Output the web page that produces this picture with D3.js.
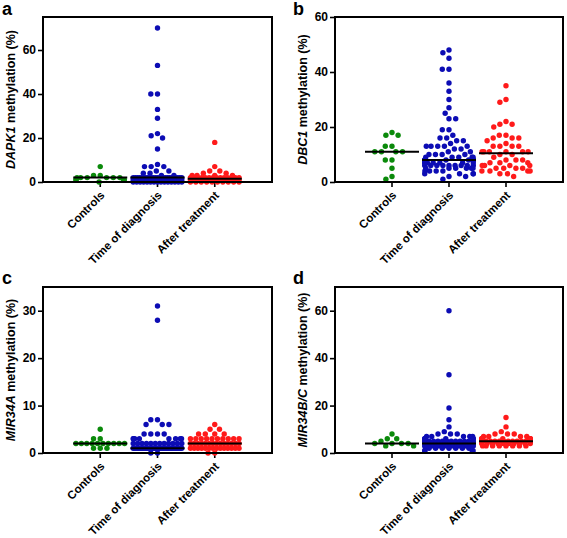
<!DOCTYPE html>
<html>
<head>
<meta charset="utf-8">
<script src="https://cdn.jsdelivr.net/npm/d3@7"></script>
<style>
  body { margin: 0; background: #fff; }
  svg { display: block; font-family: "Liberation Sans", Arial, sans-serif; }
</style>
</head>
<body>
<script>
// ---------- data ----------
const categories = ["Controls", "Time of diagnosis", "After treatment"];
const groupColors = ["#0b8a0b", "#0c0cb4", "#ff1a1a"];

const dapk1Controls = [7,3,3,2,2,2,2,2,2,1,1,1,1,0];
const dapk1Diagnosis = [70,53,40,40,33,29,22,21,20,15,8,7,7,7,5,5,4,4,3,3,
  2,2,2,2,2,2,2,2,2,2,2,2,2,2,2,2,2,2,2,2,2,2,2,2,2,
  1,1,1,1,1,1,1,1,1,1,1,1,1,1,1,1,1,1,1,1,
  0,0,0,0,0,0,0,0,0,0,0,0,0,0,0];
const dapk1After = [18,7,5,5,4,4,3,3,3,3,
  2,2,2,2,2,2,2,2,2,2,2,2,2,2,
  1,1,1,1,1,1,1,1,1,1,1,1,1,1,
  0,0,0,0,0,0,0,0,0,0];

const dbc1Controls = [18,17,17,13,13,11,11,11,11,8,8,5,2,1];
const dbc1Diagnosis = [48,47,45,41,41,36,33,30,27,25,23,23,19,19,17,16,16,15,15,14,
  13,13,13,13,13,12,12,11,11,10,10,10,10,9,9,9,9,9,
  8,8,8,8,8,8,8,8,7,7,7,7,7,7,7,6,6,6,6,6,6,6,6,6,
  5,5,5,5,5,5,4,4,4,4,3,3,3,3,2,2,1];
const dbc1After = [35,30,29,22,21,21,20,17,17,16,16,16,15,14,13,13,13,13,
  11,11,11,11,11,11,10,10,9,8,8,8,7,7,7,6,6,6,6,5,5,5,5,4,4,4,4,3,3,2];

const mir34aControls = [5,3,3,2,2,2,2,2,2,2,2,2,2,1,1,1];
const mir34aDiagnosis = [31,28,7,7,6,6,6,4,4,4,4,
  3,3,3,3,3,3,3,3,
  2,2,2,2,2,2,2,2,2,2,2,2,
  1,1,1,1,1,1,1,1,1,1,1,1,1,1,1,1,1,1,1,1,1,1,1,1,1,1,1,1,1,1,1,1,1,1,1,1,1,1,
  0,0];
const mir34aAfter = [6,5,5,4,4,4,4,
  3,3,3,3,3,3,3,3,3,3,
  2,2,2,2,2,2,2,2,2,2,2,2,2,2,
  1,1,1,1,1,1,1,1,1,1,1,1,1,1,
  0,0];

const mir34bcControls = [8,6,6,5,4,4,4,4,3,3];
const mir34bcDiagnosis = [60,33,19,14,11,9,8,8,8,7,7,7,7,7,6,6,6,6,6,6,
  5,5,5,5,5,5,5,5,5,5,5,5,
  4,4,4,4,4,4,4,4,4,4,4,4,4,4,4,4,4,4,
  3,3,3,3,3,3,3,3,3,3,3,3,3,3,3,3,3,3,
  2,2,2,2,2,2,2,2,
  1,1,1,1];
const mir34bcAfter = [15,11,9,8,8,8,7,7,7,7,
  6,6,6,6,6,6,6,6,
  5,5,5,5,5,5,5,5,5,5,5,5,
  4,4,4,4,4,4,4,4,4,4,
  3,3,3,3,3,3,3,3];

const ticksA = [0,20,40,60];
const ticksB = [0,20,40,60];
const ticksC = [0,10,20,30];
const ticksD = [0,20,40,60];

const panelLetters = ["a","b","c","d"];
const geneNames = ["DAPK1","DBC1","MIR34A","MIR34B/C"];
const yMaxes = [75, 60, 35, 70];

// ---------- layout ----------
const W = 567, H = 538;
const svg = d3.select("body").append("svg").attr("width", W).attr("height", H);

const panels = [
  {data:[dapk1Controls,dapk1Diagnosis,dapk1After], ticks:ticksA, left:43, right:272, top:17, bottom:182, lx:2, ly:15},
  {data:[dbc1Controls,dbc1Diagnosis,dbc1After], ticks:ticksB, left:335, right:563, top:17, bottom:182, lx:293, ly:15},
  {data:[mir34aControls,mir34aDiagnosis,mir34aAfter], ticks:ticksC, left:43, right:272, top:287, bottom:453, lx:2, ly:284},
  {data:[mir34bcControls,mir34bcDiagnosis,mir34bcAfter], ticks:ticksD, left:335, right:563, top:287, bottom:453, lx:293, ly:284}
];

const R = 2.7, D = 6.7, HALF = 27;
const Hm = HALF - R;

function swarm(vals, y) {
  const counts = d3.rollup(vals, v => v.length, v => v);
  const cap = Math.floor(2 * Hm / D) + 1;
  const out = [];
  // dense rows: spread uniformly across the band
  counts.forEach((n, v) => {
    if (n > cap) {
      const s = 2 * Hm / (n - 1);
      for (let i = 0; i < n; i++) out.push({v, y: y(v), x: -Hm + i * s});
    }
  });
  // sparse rows: beeswarm
  const pts = vals.filter(v => counts.get(v) <= cap)
    .map(v => ({v, y: y(v), x: 0})).sort((a, b) => b.v - a.v);
  const placed = [];
  for (const p of pts) {
    const cands = [0];
    for (const q of placed) {
      const dy = q.y - p.y;
      if (Math.abs(dy) < D) {
        const dx = Math.sqrt(D * D - dy * dy);
        cands.push(q.x + dx, q.x - dx);
      }
    }
    cands.sort((a, b) => Math.abs(a) - Math.abs(b) || a - b);
    for (const c of cands) {
      if (placed.every(q => (q.x - c) ** 2 + (q.y - p.y) ** 2 >= D * D - 1e-6)) { p.x = c; break; }
    }
    placed.push(p);
  }
  const k = 0.7 * Hm;
  pts.forEach(p => {
    const a = Math.abs(p.x);
    if (a > k) p.x = Math.sign(p.x) * (k + (Hm - k) * Math.tanh((a - k) / (Hm - k)));
  });
  return out.concat(pts);
}

panels.forEach((P, pi) => {
  const g = svg.append("g");
  const x = d3.scaleBand().domain(categories).range([P.left, P.right]).paddingInner(0).paddingOuter(0.5);
  const y = d3.scaleLinear().domain([0, yMaxes[pi]]).range([P.bottom, P.top]);

  // y axis
  const ya = g.append("g").attr("transform", `translate(${P.left},0)`)
    .call(d3.axisLeft(y).tickValues(P.ticks).tickSize(5).tickPadding(2).tickFormat(d3.format("d")));
  ya.select(".domain").remove();
  ya.selectAll("line").attr("stroke", "#000").attr("stroke-width", 1.6);
  ya.selectAll("text").attr("font-size", 12).attr("font-weight", "bold").attr("fill", "#000")
    .attr("font-family", "'Liberation Sans', Arial, sans-serif");

  // x axis
  const xa = g.append("g").attr("transform", `translate(0,${P.bottom})`)
    .call(d3.axisBottom(x).tickSize(5).tickFormat(""));
  xa.select(".domain").remove();
  xa.selectAll("line").attr("stroke", "#000").attr("stroke-width", 1.6);

  categories.forEach(c => {
    const cx = x(c) + x.bandwidth() / 2;
    g.append("text")
      .attr("transform", `translate(${cx + 5},${P.bottom + 14}) rotate(-45)`)
      .attr("text-anchor", "end")
      .attr("font-size", 11.5).attr("font-weight", "bold")
      .text(c);
  });

  // y label
  const lab = g.append("text")
    .attr("transform", `translate(${P.left - 28},${(P.top + P.bottom) / 2}) rotate(-90)`)
    .attr("text-anchor", "middle").attr("font-size", 12.5).attr("font-weight", "bold");
  lab.append("tspan").attr("font-style", "italic").text(geneNames[pi]);
  lab.append("tspan").text(" methylation (%)");

  // dots
  P.data.forEach((vals, ci) => {
    const cx = x(categories[ci]) + x.bandwidth() / 2;
    const pts = swarm(vals, y);
    g.append("g").selectAll("circle").data(pts).join("circle")
      .attr("cx", d => cx + d.x).attr("cy", d => d.y).attr("r", R)
      .attr("fill", groupColors[ci]);
  });
  // medians
  P.data.forEach((vals, ci) => {
    const cx = x(categories[ci]) + x.bandwidth() / 2;
    const m = d3.median(vals);
    g.append("line").attr("x1", cx - HALF).attr("x2", cx + HALF)
      .attr("y1", y(m)).attr("y2", y(m)).attr("stroke", "#000").attr("stroke-width", 2);
  });

  // frame
  g.append("rect").attr("x", P.left).attr("y", P.top)
    .attr("width", P.right - P.left).attr("height", P.bottom - P.top)
    .attr("fill", "none").attr("stroke", "#000").attr("stroke-width", 2);

  // panel letter
  svg.append("text").attr("x", P.lx).attr("y", P.ly)
    .attr("font-size", 18).attr("font-weight", "bold").text(panelLetters[pi]);
});
</script>
</body>
</html>
